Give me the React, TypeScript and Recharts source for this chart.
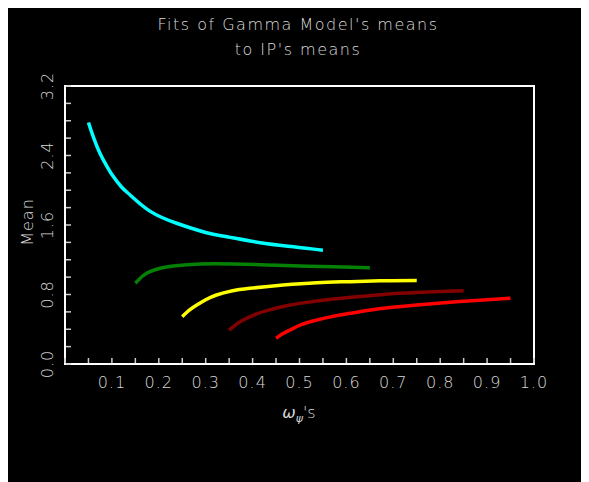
import { LineChart, Line, XAxis, YAxis, ReferenceArea } from "recharts";

const xTicks = [0, 0.05, 0.1, 0.15, 0.2, 0.25, 0.3, 0.35, 0.4, 0.45, 0.5, 0.55, 0.6, 0.65, 0.7, 0.75, 0.8, 0.85, 0.9, 0.95, 1.0];
const xLabels = ["0.1", "0.2", "0.3", "0.4", "0.5", "0.6", "0.7", "0.8", "0.9", "1.0"];
const yTicks = [0, 0.2, 0.4, 0.6, 0.8, 1.0, 1.2, 1.4, 1.6, 1.8, 2.0, 2.2, 2.4, 2.6, 2.8, 3.0, 3.2];
const yLabels = ["0.0", "0.8", "1.6", "2.4", "3.2"];

// omega values and fitted means
const cyanX = [0.05, 0.06, 0.075, 0.09, 0.1, 0.12, 0.14, 0.181, 0.238, 0.302, 0.345, 0.416, 0.487, 0.55];
const cyanY = [2.78, 2.62, 2.42, 2.27, 2.18, 2.04, 1.94, 1.76, 1.62, 1.511, 1.465, 1.396, 1.35, 1.31];
const greenX = [0.15, 0.165, 0.181, 0.205, 0.231, 0.288, 0.359, 0.43, 0.501, 0.572, 0.65];
const greenY = [0.93, 1.01, 1.063, 1.105, 1.128, 1.151, 1.151, 1.14, 1.128, 1.12, 1.109];
const yellowX = [0.25, 0.265, 0.281, 0.3, 0.323, 0.355, 0.394, 0.465, 0.537, 0.608, 0.679, 0.75];
const yellowY = [0.545, 0.62, 0.679, 0.74, 0.794, 0.84, 0.871, 0.909, 0.936, 0.948, 0.959, 0.962];
const darkRedX = [0.35, 0.365, 0.38, 0.405, 0.43, 0.465, 0.501, 0.572, 0.643, 0.714, 0.785, 0.85];
const darkRedY = [0.391, 0.455, 0.506, 0.568, 0.614, 0.662, 0.698, 0.748, 0.783, 0.813, 0.832, 0.844];
const redX = [0.45, 0.465, 0.48, 0.505, 0.537, 0.57, 0.608, 0.679, 0.75, 0.821, 0.892, 0.95];
const redY = [0.295, 0.35, 0.391, 0.455, 0.506, 0.548, 0.583, 0.641, 0.679, 0.71, 0.737, 0.756];

const toPoints = (xs: number[], ys: number[]) => xs.map((x, i) => ({ x, y: ys[i] }));

const series = [
    { name: "cyan", color: "#00ffff", data: toPoints(cyanX, cyanY) },
    { name: "green", color: "#058205", data: toPoints(greenX, greenY) },
    { name: "yellow", color: "#ffff00", data: toPoints(yellowX, yellowY) },
    { name: "darkred", color: "#820000", data: toPoints(darkRedX, darkRedY) },
    { name: "red", color: "#ff0000", data: toPoints(redX, redY) },
];

const FONT = "'DejaVu Sans', sans-serif";
const TEXT = "#d8d8d8";

const XTick = (props: any) => {
    const { x, y, payload } = props;
    const v = Number(payload.value);
    const label = (Math.round(v * 10) / 10).toFixed(1);
    const show = Math.round(v * 20) % 2 === 0 && v > 0 && xLabels.includes(label);
    return (
        <g>
            <line x1={x} y1={y - 1} x2={x} y2={y - 6} stroke="#cccccc" strokeWidth={1.5} />
            {show && (
                <text x={x} y={y + 24} textAnchor="middle" fill={TEXT} fontSize={16} fontFamily={FONT} fontWeight={300} letterSpacing={1}>
                    {label}
                </text>
            )}
        </g>
    );
};

const YTick = (props: any) => {
    const { x, y, payload } = props;
    const v = Number(payload.value);
    const label = v.toFixed(1);
    const show = Math.round(v * 5) % 4 === 0 && yLabels.includes(label);
    return (
        <g>
            <line x1={x + 1} y1={y} x2={x + 6} y2={y} stroke="#cccccc" strokeWidth={1.5} />
            {show && (
                <text
                    x={x - 12}
                    y={y}
                    transform={`rotate(-90, ${x - 12}, ${y})`}
                    textAnchor="middle"
                    fill={TEXT}
                    fontSize={16}
                    fontFamily={FONT}
                    fontWeight={300}
                    letterSpacing={1}
                >
                    {label}
                </text>
            )}
        </g>
    );
};

export default function App() {
    return (
        <div style={{ position: "relative", width: 582, height: 480, marginLeft: -1, marginTop: -6, background: "#000" }}>
            <div style={{ position: "absolute", left: 0, top: 10, width: 582, textAlign: "center", color: TEXT, fontFamily: FONT, fontSize: 16, fontWeight: 300, letterSpacing: 1.5, lineHeight: "25px" }}>
                Fits of Gamma Model's means
                <br />
                to IP's means
            </div>
            <div style={{ position: "absolute", left: 20, top: 220, transform: "translate(-50%, -50%) rotate(-90deg)", color: TEXT, fontFamily: FONT, fontSize: 16, fontWeight: 300, letterSpacing: 1 }}>
                Mean
            </div>
            <div style={{ position: "absolute", left: 292, top: 412, transform: "translate(-50%, -50%)", color: TEXT, fontFamily: FONT, fontSize: 16, fontWeight: 300 }}>
                <span style={{ fontStyle: "italic" }}>ω</span>
                <sub style={{ fontSize: 11, fontStyle: "italic" }}>ψ</sub>'s
            </div>
            <div style={{ position: "absolute", left: 0, top: 0 }}>
                <LineChart width={582} height={480} margin={{ top: 84, right: 55, bottom: 78, left: 18 }}>
                    <XAxis
                        type="number"
                        dataKey="x"
                        domain={[0, 1]}
                        ticks={xTicks}
                        interval={0}
                        height={40}
                        tickSize={0}
                        tickMargin={0}
                        tickLine={false}
                        tick={XTick}
                        axisLine={{ stroke: "#fff", strokeWidth: 2 }}
                        allowDuplicatedCategory={false}
                    />
                    <YAxis
                        type="number"
                        dataKey="y"
                        domain={[0, 3.2]}
                        ticks={yTicks}
                        interval={0}
                        width={40}
                        tickSize={0}
                        tickMargin={0}
                        tickLine={false}
                        tick={YTick}
                        axisLine={{ stroke: "#fff", strokeWidth: 2 }}
                    />
                    <ReferenceArea x1={0} x2={1} y1={0} y2={3.2} fill="none" stroke="#fff" strokeWidth={2} ifOverflow="visible" />
                    {series.map((s) => (
                        <Line
                            key={s.name}
                            data={s.data}
                            dataKey="y"
                            type="natural"
                            stroke={s.color}
                            strokeWidth={3.5}
                            dot={false}
                            isAnimationActive={false}
                        />
                    ))}
                </LineChart>
            </div>
        </div>
    );
}
